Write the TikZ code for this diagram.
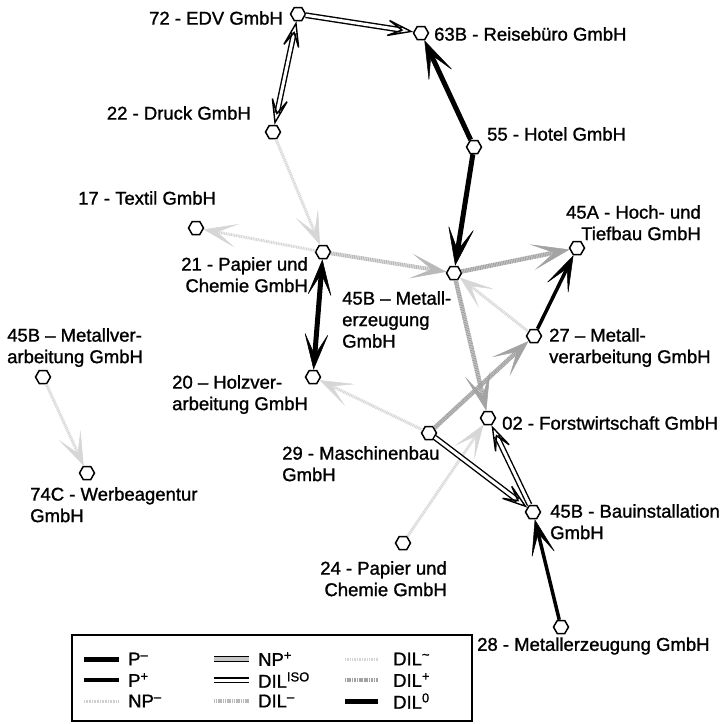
\documentclass[tikz,border=0pt]{standalone}
\usepackage{fontspec}
\setmainfont{Liberation Sans}
\newfontfamily\lblfont{Liberation Sans}[FakeBold=1.2]
\usetikzlibrary{arrows.meta,shapes.geometric}

\tikzset{
  firm/.style={regular polygon, regular polygon sides=6, draw, line width=1.5pt, fill=white, inner sep=0pt, minimum size=15pt},
  lbl/.style={font=\fontsize{18.5}{21.5}\lblfont, inner sep=0pt},
  pminus/.style={line width=5pt, >={Stealth[line width=0.5pt, length=40pt, width=27pt, inset=24pt]}},
  pplus/.style={line width=3.5pt, >={Stealth[line width=0.5pt, length=38pt, width=25pt, inset=23pt]}},
  dilzero/.style={line width=5pt, >={Stealth[line width=0.5pt, length=38pt, width=25pt, inset=23pt]}},
  diliso/.style={double=white, double distance=3pt, line width=1.4pt, >={Stealth[open, line width=1.4pt, length=32pt, width=21pt, inset=19pt]}},
  npplus/.style={double=gray!45, double distance=3.5pt, line width=1.4pt},
  dilminus/.style={gray!55, line width=4pt, dash pattern=on 1.2pt off 0.6pt, >={Stealth[line width=0.5pt, length=36pt, width=25pt, inset=21pt]}},
  dilplus/.style={gray!72, line width=4.5pt, dash pattern=on 1.2pt off 0.5pt, >={Stealth[line width=0.5pt, length=38pt, width=26pt, inset=22pt]}},
  diltilde/.style={gray!32, line width=3pt, dash pattern=on 1pt off 0.7pt, >={Stealth[line width=0.5pt, length=34pt, width=24pt, inset=20pt]}},
  npminus/.style={gray!38, line width=3pt, dash pattern=on 0.8pt off 0.8pt},
}

\begin{document}
\begin{tikzpicture}[x=1pt, y=-1pt]
\useasboundingbox (0,0) rectangle (724,724);

\node[firm] (n72) at (298,14) {};
\node[firm] (n63B) at (421,33) {};
\node[firm] (n22) at (273,132) {};
\node[firm] (n55) at (474,147) {};
\node[firm] (n17) at (196,228) {};
\node[firm] (n21) at (323,252) {};
\node[firm] (n45A) at (577,248) {};
\node[firm] (n45Bm) at (454,273) {};
\node[firm] (n27) at (534,336) {};
\node[firm] (n45Bv) at (43,377) {};
\node[firm] (n20) at (313,377) {};
\node[firm] (n02) at (488,418) {};
\node[firm] (n29) at (429,433) {};
\node[firm] (n74C) at (87,473) {};
\node[firm] (n45Bb) at (533,512) {};
\node[firm] (n24) at (403,543) {};
\node[firm] (n28) at (561,627) {};

\node[lbl, anchor=east] (t72) at (283,18) {72 - EDV GmbH};
\node[lbl, anchor=west] (t63B) at (434,34) {63B - Reisebüro GmbH};
\node[lbl, anchor=east] (t22) at (251,113) {22 - Druck GmbH};
\node[lbl, anchor=west] (t55) at (487,134) {55 - Hotel GmbH};
\node[lbl, anchor=west] (t17) at (78,198) {17 - Textil GmbH};
\node[lbl, anchor=north east, align=right] (t21) at (308,257) {21 - Papier und\\Chemie GmbH};
\node[lbl, anchor=north east, align=right] (t45A) at (701,205) {45A - Hoch- und\\Tiefbau GmbH};
\node[lbl, anchor=north west, align=left] (t45Bm) at (342,291) {45B – Metall-\\erzeugung\\GmbH};
\node[lbl, anchor=north west, align=left] (t27) at (549,328) {27 – Metall-\\verarbeitung GmbH};
\node[lbl, anchor=north west, align=left] (t45Bv) at (7,328) {45B – Metallver-\\arbeitung GmbH};
\node[lbl, anchor=north west, align=left] (t20) at (172,375) {20 – Holzver-\\arbeitung GmbH};
\node[lbl, anchor=west] (t02) at (502,423) {02 - Forstwirtschaft GmbH};
\node[lbl, anchor=north west, align=left] (t29) at (282,446) {29 - Maschinenbau\\GmbH};
\node[lbl, anchor=north west, align=left] (t74C) at (30,487) {74C - Werbeagentur\\GmbH};
\node[lbl, anchor=north west, align=left] (t45Bb) at (550,504) {45B - Bauinstallation\\GmbH};
\node[lbl, anchor=north east, align=right] (t24) at (447,561) {24 - Papier und\\Chemie GmbH};
\node[lbl, anchor=west] (t28) at (477,646) {28 - Metallerzeugung GmbH};

\draw[diltilde,->] (n22) -- (n21);
\draw[diltilde,->] (n21) -- (n17);
\draw[diltilde,->] (n27) -- (n45Bm);
\draw[diltilde,->] (n29) -- (n20);
\draw[diltilde,->] (n24) -- (n02);
\draw[diltilde,->] (n45Bv) -- (n74C);
\draw[dilminus,->] (n21) -- (n45Bm);
\draw[dilplus,->] (n45Bm) -- (n45A);
\draw[dilplus,->] (n45Bm) -- (n02);
\draw[dilplus,->] (n29) -- (n27);
\draw[diliso,<->] (n72) -- (n22);
\draw[diliso,->] (n72) -- (n63B);
\draw[diliso,->] (n29) -- (n45Bb);
\draw[diliso,->] (n45Bb) -- (n02);
\draw[pminus,->] (n55) -- (n63B);
\draw[pminus,->] (n55) -- (n45Bm);
\draw[dilzero,<->] (n21) -- (n20);
\draw[pplus,->] (n27) -- (n45A);
\draw[pplus,->] (n28) -- (n45Bb);

\draw[line width=1.4pt] (72,635) rectangle (472,721);
\draw[pminus] (84,659) -- (119,659);
\draw[pplus] (84,680) -- (119,680);
\draw[npminus] (84,701) -- (119,701);
\draw[npplus] (214,659) -- (249,659);
\draw[diliso] (214,680) -- (249,680);
\draw[dilminus] (214,701) -- (249,701);
\draw[diltilde] (345,659) -- (378,659);
\draw[dilplus] (345,680) -- (378,680);
\draw[dilzero] (345,701) -- (378,701);
\node[lbl, anchor=west] (kpm) at (128,659) {P\textsuperscript{–}};
\node[lbl, anchor=west] (kpp) at (128,680) {P\textsuperscript{+}};
\node[lbl, anchor=west] (knpm) at (128,701) {NP\textsuperscript{–}};
\node[lbl, anchor=west] (knpp) at (258,659) {NP\textsuperscript{+}};
\node[lbl, anchor=west] (kiso) at (258,680) {DIL\textsuperscript{ISO}};
\node[lbl, anchor=west] (kdm) at (258,701) {DIL\textsuperscript{–}};
\node[lbl, anchor=west] (kdt) at (393,659) {DIL\textsuperscript{\textasciitilde}};
\node[lbl, anchor=west] (kdp) at (393,680) {DIL\textsuperscript{+}};
\node[lbl, anchor=west] (kdz) at (393,701) {DIL\textsuperscript{0}};
\end{tikzpicture}
\end{document}
